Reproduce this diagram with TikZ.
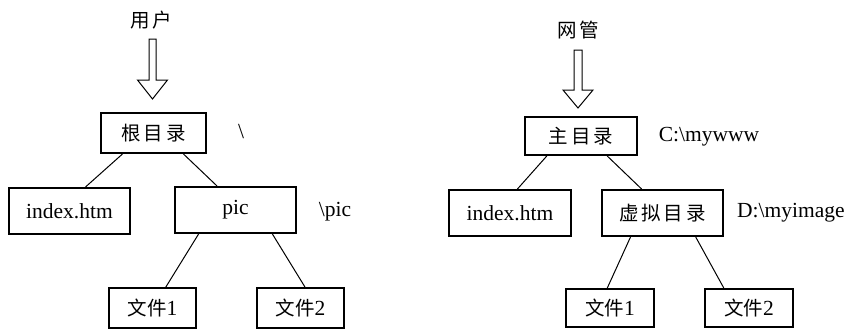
\documentclass[tikz,border=0pt]{standalone}
\usepackage{fontspec}
\setmainfont{Liberation Serif}
\newfontfamily\cjk{Noto Sans CJK SC}
\usetikzlibrary{calc}
\newcommand{\cjkf}{\cjk\fontsize{19.5}{22}\selectfont}
\tikzset{
  box/.style={draw, line width=2pt, rectangle, inner sep=0pt, font=\fontsize{21.5}{24}\selectfont},
  conn/.style={line width=1pt},
  hollow/.style={draw, line width=1pt, fill=white},
  lbl/.style={inner sep=0pt, font=\fontsize{21.5}{24}\selectfont},
  cj/.style={inner sep=0pt, font=\cjkf}
}
\newcommand{\cs}{\hspace{3pt}}
\begin{document}
\begin{tikzpicture}[x=1pt,y=-1pt]
\useasboundingbox (0,0) rectangle (847,330);
% ---------- left tree ----------
\node[cj] (user) at (151,20) {用\cs 户};
\draw[hollow] (149,39) -- (156,39) -- (156,80) -- (167.5,80) -- (152.5,99) -- (137.5,80) -- (149,80) -- cycle;
\node[box, minimum width=105, minimum height=40] (root) at (153.5,133) {{\cjkf 根\cs 目\cs 录}};
\node[lbl] (bs) at (241,132) {\textbackslash};
\node[box, minimum width=121, minimum height=46] (idx1) at (69.5,211) {index.htm};
\node[box, minimum width=121, minimum height=46] (pic) at (235.5,210) {pic};
\node[lbl] (picl) at (335,212) {\textbackslash pic};
\node[box, minimum width=87, minimum height=40] (f1) at (152.5,308) {{\cjkf 文件}1};
\node[box, minimum width=87, minimum height=40] (f2) at (300.5,308) {{\cjkf 文件}2};
\draw[conn] ($(root.south west)!.21!(root.south east)$) -- ($(idx1.north west)!.63!(idx1.north east)$);
\draw[conn] ($(root.south west)!.78!(root.south east)$) -- ($(pic.north west)!.35!(pic.north east)$);
\draw[conn] ($(pic.south west)!.20!(pic.south east)$) -- ($(f1.north west)!.65!(f1.north east)$);
\draw[conn] ($(pic.south west)!.80!(pic.south east)$) -- ($(f2.north west)!.55!(f2.north east)$);
% ---------- right tree ----------
\node[cj] (admin) at (578,30) {网\cs 管};
\draw[hollow] (574,50) -- (582,50) -- (582,90) -- (593,90) -- (578,108) -- (563,90) -- (574,90) -- cycle;
\node[box, minimum width=112, minimum height=38] (root2) at (581,136) {{\cjkf 主\cs 目\cs 录}};
\node[lbl] (cpath) at (709,137) {C:\textbackslash mywww};
\node[box, minimum width=122, minimum height=46] (idx2) at (510,213) {index.htm};
\node[box, minimum width=121, minimum height=46] (virt) at (662.5,213) {{\cjkf 虚\cs 拟\cs 目\cs 录}};
\node[lbl, anchor=west] (dpath) at (737,213) {D:\textbackslash myimage};
\node[box, minimum width=88, minimum height=38] (g1) at (610,308) {{\cjkf 文件}1};
\node[box, minimum width=88, minimum height=38] (g2) at (749,308) {{\cjkf 文件}2};
\draw[conn] ($(root2.south west)!.20!(root2.south east)$) -- ($(idx2.north west)!.56!(idx2.north east)$);
\draw[conn] ($(root2.south west)!.73!(root2.south east)$) -- ($(virt.north west)!.33!(virt.north east)$);
\draw[conn] ($(virt.south west)!.24!(virt.south east)$) -- ($(g1.north west)!.47!(g1.north east)$);
\draw[conn] ($(virt.south west)!.77!(virt.south east)$) -- ($(g2.north west)!.22!(g2.north east)$);
\end{tikzpicture}
\end{document}
